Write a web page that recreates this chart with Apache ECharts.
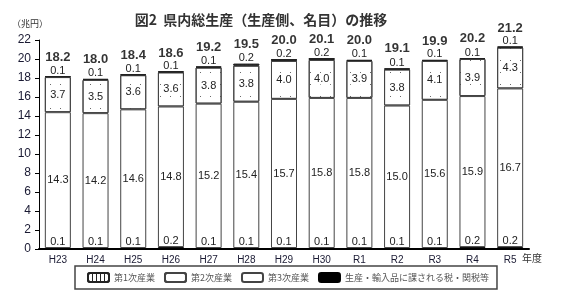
<!DOCTYPE html>
<html>
<head>
<meta charset="utf-8">
<script src="https://cdn.jsdelivr.net/npm/echarts@6/dist/echarts.min.js"></script>
<style>
  html, body { margin: 0; padding: 0; background: #fff; }
  #main { width: 563px; height: 298px; }
</style>
</head>
<body>
<div id="main"></div>
<script>
// 年度
const years = ["H23", "H24", "H25", "H26", "H27", "H28", "H29", "H30", "R1", "R2", "R3", "R4", "R5"];
// 各部門（兆円）
const taxes = [0.1, 0.1, 0.1, 0.2, 0.1, 0.1, 0.1, 0.1, 0.1, 0.1, 0.1, 0.2, 0.2];
const tertiary = [14.3, 14.2, 14.6, 14.8, 15.2, 15.4, 15.7, 15.8, 15.8, 15.0, 15.6, 15.9, 16.7];
const secondary = [3.7, 3.5, 3.6, 3.6, 3.8, 3.8, 4.0, 4.0, 3.9, 3.8, 4.1, 3.9, 4.3];
const primary = [0.1, 0.1, 0.1, 0.1, 0.1, 0.2, 0.2, 0.2, 0.1, 0.1, 0.1, 0.1, 0.1];
// 合計（グラフ上の表示値）
const totals = [18.2, 18.0, 18.4, 18.6, 19.2, 19.5, 20.0, 20.1, 20.0, 19.1, 19.9, 20.2, 21.2];
const yTicks = [0, 2, 4, 6, 8, 10, 12, 14, 16, 18, 20, 22];

const numFont = "'Liberation Sans', Arial, sans-serif";
const jpFont = "'Noto Sans CJK JP', sans-serif";

const segLabel = {
  show: true,
  color: "#222",
  fontSize: 11,
  fontFamily: numFont,
  formatter: p => p.value.toFixed(1)
};

let myChart = echarts.init(document.getElementById("main"));
myChart.setOption({
  animation: false,
  textStyle: { fontFamily: numFont },
  title: {
    text: "図2  県内総生産（生産側、名目）の推移",
    left: 256,
    textAlign: "center",
    top: 8,
    textStyle: { fontFamily: jpFont, fontSize: 14, fontWeight: "bold", color: "#333" }
  },
  legend: {
    left: 75,
    top: 266,
    padding: [6, 8, 6, 12],
    borderColor: "#444",
    borderWidth: 1.5,
    itemWidth: 21,
    itemHeight: 9,
    itemGap: 9,
    selectedMode: false,
    textStyle: { fontFamily: jpFont, fontSize: 9, color: "#555" },
    data: ["第1次産業", "第2次産業", "第3次産業", "生産・輸入品に課される税・関税等"]
  },
  grid: { left: 39, right: 34, top: 40, bottom: 49 },
  xAxis: {
    type: "category",
    data: years,
    axisLine: { lineStyle: { color: "#000", width: 2 } },
    axisTick: { show: false },
    axisLabel: { color: "#1a1a33", fontSize: 10, fontFamily: "'Liberation Sans Narrow', " + numFont, margin: 6 }
  },
  yAxis: {
    type: "value",
    min: 0,
    max: 22,
    interval: 2,
    axisLine: { show: true, lineStyle: { color: "#000", width: 1 } },
    axisTick: { show: true, length: 4, lineStyle: { color: "#000" } },
    splitLine: { show: false },
    axisLabel: {
      color: "#1a1a33",
      fontSize: 12,
      margin: 8,
      formatter: v => (yTicks.indexOf(v) >= 0 ? String(v) : "")
    }
  },
  graphic: [
    { type: "text", left: 12, top: 19, style: { text: "（兆円）", fontFamily: jpFont, fontSize: 9, fill: "#333" } },
    { type: "text", left: 522, top: 253, style: { text: "年度", fontFamily: jpFont, fontSize: 10, fill: "#333" } }
  ],
  series: [
    {
      name: "生産・輸入品に課される税・関税等",
      type: "bar",
      stack: "gdp",
      barWidth: "69%",
      data: taxes,
      itemStyle: { color: "#000", borderColor: "#000", borderWidth: 1 },
      label: Object.assign({}, segLabel, { position: "top", distance: 1 })
    },
    {
      name: "第3次産業",
      type: "bar",
      stack: "gdp",
      data: tertiary,
      itemStyle: { color: "#fff", borderColor: "#444", borderWidth: 1 },
      label: Object.assign({}, segLabel, { position: "inside" })
    },
    {
      name: "第2次産業",
      type: "bar",
      stack: "gdp",
      data: secondary,
      itemStyle: {
        color: "#fff",
        borderColor: "#444",
        borderWidth: 1,
        decal: { symbol: "rect", symbolSize: 0.8, dashArrayX: [1, 9], dashArrayY: [1, 11], color: "#444" }
      },
      label: Object.assign({}, segLabel, { position: "inside", backgroundColor: "#fff", padding: [0, 1] })
    },
    {
      name: "第1次産業",
      type: "bar",
      stack: "gdp",
      data: primary,
      itemStyle: {
        color: "#fff",
        borderColor: "#222",
        borderWidth: 1,
        decal: { symbol: "rect", symbolSize: 1, dashArrayX: [1, 3], dashArrayY: [10, 0], color: "#222" }
      },
      label: Object.assign({}, segLabel, { position: "top", distance: 0 })
    },
    {
      name: "合計",
      type: "scatter",
      data: totals,
      symbolSize: 1,
      itemStyle: { color: "rgba(0,0,0,0)" },
      label: {
        show: true,
        position: "top",
        distance: 12,
        color: "#000",
        fontSize: 13,
        fontWeight: "bold",
        fontFamily: numFont,
        formatter: p => p.value.toFixed(1)
      }
    }
  ]
});
</script>
</body>
</html>
